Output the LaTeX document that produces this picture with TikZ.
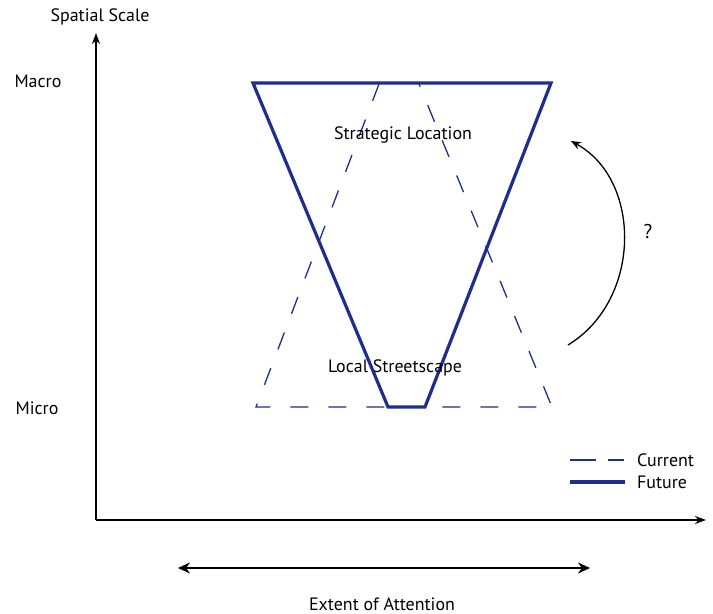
\documentclass[tikz,border=0pt]{standalone}
\usepackage{fontspec}
\setmainfont{PT Sans}
\usetikzlibrary{arrows.meta}
\definecolor{navy}{HTML}{1F2D8C}
\begin{document}
\begin{tikzpicture}[x=1bp,y=-1bp,
  lbl/.style={font=\fontsize{18}{20}\selectfont, inner sep=0pt},
  axis/.style={line width=1.4bp, -{Stealth[length=11bp,width=8bp]}},
  future/.style={draw=navy, line width=3.2bp, line join=miter},
  current/.style={draw=navy, line width=1.3bp, dash pattern=on 18bp off 20bp}]
\useasboundingbox (0,0) rectangle (713,614);
% axes
\coordinate (O) at (96,520);
\coordinate (Ytop) at (96,33);
\coordinate (Xend) at (706,520);
\draw[axis] (O) -- (Ytop);
\draw[axis] (O) -- (Xend);
\node[lbl] (ss) at (100,17) {Spatial Scale};
\node[lbl] (macro) at (38,81) {Macro};
\node[lbl] (micro) at (37,408) {Micro};
% current (dashed)
\coordinate (c1) at (379,84);
\coordinate (c2) at (256,407);
\coordinate (c3) at (552,407);
\coordinate (c4) at (419,84);
\draw[current] (c1) -- (c2) -- (c3) -- (c4);
% future (solid)
\coordinate (f1) at (253,83);
\coordinate (f2) at (551,83);
\coordinate (f3) at (425,407);
\coordinate (f4) at (388,407);
\draw[future] (f1) -- (f2) -- (f3) -- (f4) -- cycle;
\node[lbl] (strat) at (403,135) {Strategic Location};
\node[lbl] (local) at (395,368) {Local Streetscape};
% curved arrow
\coordinate (a1) at (568,345);
\coordinate (a2) at (571,141);
\draw[line width=1.3bp, -{Stealth[length=10bp,width=8bp]}] (a1) .. controls (642,300) and (642,180) .. (a2);
\node[lbl, font=\fontsize{20}{22}\selectfont] (q) at (648,232) {?};
% legend
\coordinate (l1) at (570,460);
\coordinate (l2) at (624,460);
\coordinate (l3) at (570,482);
\coordinate (l4) at (625,482);
\draw[navy, line width=1.3bp, dash pattern=on 26bp off 12bp] (l1) -- (l2);
\draw[future] (l3) -- (l4);
\node[lbl, anchor=west] (cur) at (637,460) {Current};
\node[lbl, anchor=west] (fut) at (637,482) {Future};
% extent arrow
\coordinate (e1) at (178,568);
\coordinate (e2) at (590,568);
\draw[line width=2.6bp, {Stealth[length=12bp,width=11bp]}-{Stealth[length=12bp,width=11bp]}] (e1) -- (e2);
\node[lbl] (ext) at (382,604) {Extent of Attention};
\end{tikzpicture}
\end{document}
